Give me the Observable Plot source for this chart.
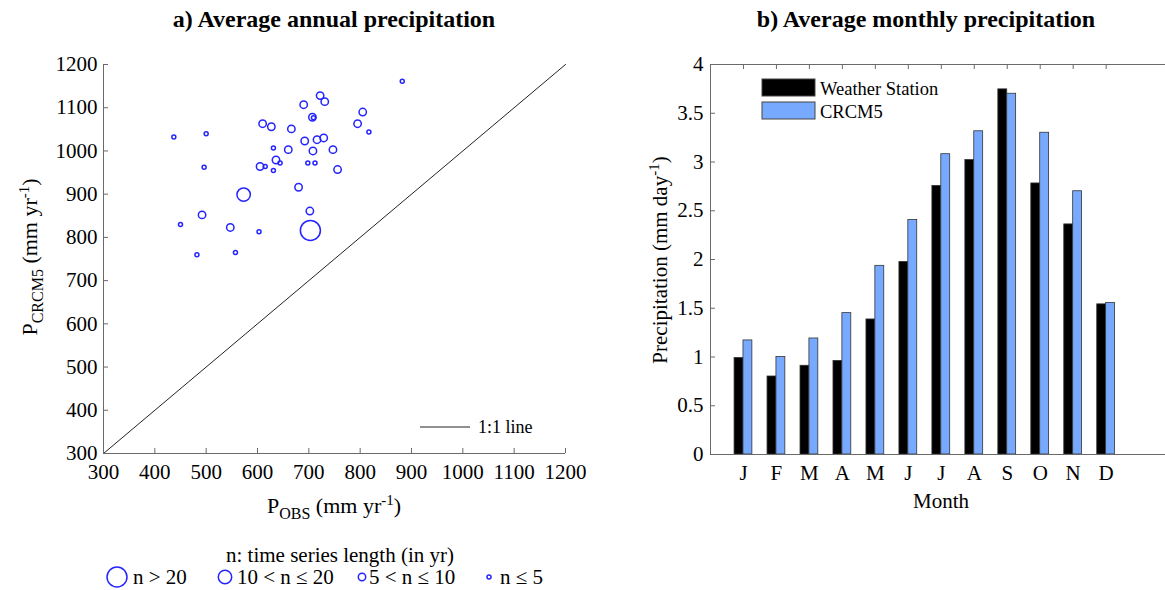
<!DOCTYPE html>
<html><head><meta charset="utf-8">
<script src="https://cdn.jsdelivr.net/npm/d3@7"></script>
<script src="https://cdn.jsdelivr.net/npm/@observablehq/plot@0.6"></script>
<style>
body{margin:0;background:#fff;}
#wrap{position:relative;width:1165px;height:590px;overflow:hidden;background:#fff;font-family:"Liberation Serif","Times New Roman",serif;}
#a{position:absolute;left:0;top:0;}
#b{position:absolute;left:600px;top:0;}
#ov{position:absolute;left:0;top:0;}
</style></head><body>
<div id="wrap"><div id="a"></div><div id="b"></div></div>
<script>
// ---- Panel a: average annual precipitation per station ----
const pObs   = [437,500,496,450,603,482,557,631,644,615,631,698,712,882,817,709,
                492,547,702,680,610,627,666,690,722,731,707,660,692,716,729,708,747,636,605,756,805,795,
                573,703];
const pCrcm5 = [1032,1040,962,830,813,760,765,1007,972,964,955,972,972,1161,1044,1077,
                852,823,861,916,1063,1056,1051,1107,1128,1114,1078,1003,1023,1026,1030,1000,1003,979,964,957,1090,1063,
                899,816];
// 0: n<=5, 1: 5<n<=10, 2: 10<n<=20, 3: n>20
const nClass = [0,0,0,0,0,0,0,0,0,0,0,0,0,0,0,0,
                1,1,1,1,1,1,1,1,1,1,1,1,1,1,1,1,1,1,1,1,1,1,
                2,3];
const sizeLabels = ["n > 20","10 < n \u2264 20","5 < n \u2264 10","n \u2264 5"];
const oneToOne = [300,1200];
const xTicksA = [300,400,500,600,700,800,900,1000,1100,1200];
const yTicksA = [300,400,500,600,700,800,900,1000,1100,1200];

// ---- Panel b: average monthly precipitation ----
const months    = ["J","F","M","A","M","J","J","A","S","O","N","D"];
const stationPr = [0.99,0.80,0.91,0.96,1.385,1.975,2.755,3.02,3.745,2.78,2.36,1.54];
const crcm5Pr   = [1.17,1.00,1.19,1.45,1.935,2.405,3.08,3.315,3.70,3.30,2.70,1.555];
const yTicksB   = [0,0.5,1,1.5,2,2.5,3,3.5,4];
const seriesNames = ["Weather Station","CRCM5"];

const blue = "#2424ff", barBlue = "#77aaff", axisGray = "#6a6a6a";
const font = "'Liberation Serif','Times New Roman',serif";
const radii = [2, 3.7, 6.7, 10];

const stations = pObs.map((x,i)=>({obs:x, crcm5:pCrcm5[i], cls:nClass[i]}));
const monthIdx = months.map((m,i)=>i+1);
const monthData = months.map((m,i)=>({i:i+1, m, ws:stationPr[i], rc:crcm5Pr[i]}));
const bw = 0.27;

const plotA = Plot.plot({
  width: 600, height: 530, marginLeft: 103, marginRight: 35, marginTop: 64, marginBottom: 77,
  x: {domain: [300,1200]}, y: {domain: [300,1200]},
  style: {fontFamily: font, fontSize: "21px", background: "transparent", color: "#000", overflow: "visible"},
  marks: [
    Plot.line(oneToOne.map(v=>[v,v]), {stroke: "#222", strokeWidth: 1}),
    ...radii.map((r,k)=>Plot.dot(stations.filter(d=>d.cls===k), {x:"obs", y:"crcm5", r, stroke: blue, strokeWidth: 1.5, fill: "none"})),
    Plot.ruleX([300], {stroke: axisGray}),
    Plot.ruleY([300], {stroke: axisGray}),
    Plot.tickX(xTicksA, {x: d=>d, stroke: axisGray, insetTop: 389-5}),
    Plot.tickY(yTicksA, {y: d=>d, stroke: axisGray, insetRight: 462-5}),
    Plot.axisX({ticks: xTicksA, tickFormat: d=>String(d), tickSize: 0, tickPadding: 11, label: null, fontSize: 21}),
    Plot.axisY({ticks: yTicksA, tickFormat: d=>String(d), tickSize: 0, tickPadding: 6, label: null, fontSize: 21})
  ]
});
document.getElementById("a").appendChild(plotA);

const plotB = Plot.plot({
  width: 565, height: 530, marginLeft: 110, marginRight: 0, marginTop: 64, marginBottom: 76,
  x: {domain: [0, 13.8]}, y: {domain: [0,4]},
  style: {fontFamily: font, fontSize: "21px", background: "transparent", color: "#000", overflow: "visible"},
  marks: [
    Plot.rect(monthData, {x1: d=>d.i-bw, x2: d=>d.i, y1: ()=>0, y2: "ws", fill: "#000", stroke: "#333", strokeWidth: 0.8}),
    Plot.rect(monthData, {x1: d=>d.i, x2: d=>d.i+bw, y1: ()=>0, y2: "rc", fill: barBlue, stroke: "#333", strokeWidth: 0.8}),
    Plot.ruleY([0,4], {stroke: axisGray}),
    Plot.ruleX([0], {stroke: axisGray}),
    Plot.tickX(monthIdx, {x: d=>d, stroke: axisGray, insetBottom: 390-5}),
    Plot.tickY(yTicksB, {y: d=>d, stroke: axisGray, insetRight: 455-5}),
    Plot.axisX({ticks: monthIdx, tickFormat: d=>months[d-1], tickSize: 0, tickPadding: 11, label: null, fontSize: 21}),
    Plot.axisY({ticks: yTicksB, tickFormat: d=>String(d), tickSize: 0, tickPadding: 7, label: null, fontSize: 21})
  ]
});
document.getElementById("b").appendChild(plotB);

// ---- Titles, axis labels, legends (overlay) ----
const legendX = [117, 225, 362, 489];
const legendTextX = [133, 237, 369, 500];
const legendR = [radii[3], radii[2], radii[1], radii[0]];
let ov = `<svg id="ov" width="1165" height="590" xmlns="http://www.w3.org/2000/svg" font-family="${font}" fill="#000">
  <text x="334" y="27" text-anchor="middle" font-size="24" font-weight="bold">a) Average annual precipitation</text>
  <text x="926" y="27" text-anchor="middle" font-size="24" font-weight="bold">b) Average monthly precipitation</text>
  <text x="334" y="513" text-anchor="middle" font-size="22">P<tspan font-size="16" dy="6">OBS</tspan><tspan dy="-6"> (mm yr</tspan><tspan font-size="15" dy="-8">-1</tspan><tspan dy="8">)</tspan></text>
  <text transform="translate(37,257) rotate(-90)" text-anchor="middle" font-size="22">P<tspan font-size="16" dy="6">CRCM5</tspan><tspan dy="-6"> (mm yr</tspan><tspan font-size="15" dy="-8">-1</tspan><tspan dy="8">)</tspan></text>
  <text transform="translate(667,260) rotate(-90)" text-anchor="middle" font-size="21">Precipitation (mm day<tspan font-size="15" dy="-8">-1</tspan><tspan dy="8">)</tspan></text>
  <text x="941" y="508" text-anchor="middle" font-size="21">Month</text>
  <line x1="420" y1="427" x2="470" y2="427" stroke="#222" stroke-width="1"/>
  <text x="478" y="433" font-size="18">1:1 line</text>
  <rect x="762" y="79" width="53" height="17" fill="#000" stroke="#444"/>
  <rect x="762" y="102" width="53" height="17" fill="${barBlue}" stroke="#444"/>
  <text x="820" y="95" font-size="18.5">${seriesNames[0]}</text>
  <text x="820" y="118" font-size="18.5">${seriesNames[1]}</text>
  <text x="340" y="562" text-anchor="middle" font-size="21">n: time series length (in yr)</text>`;
sizeLabels.forEach((s,k)=>{
  ov += `<circle cx="${legendX[k]}" cy="577" r="${legendR[k]}" fill="none" stroke="${blue}" stroke-width="1.5"/>
  <text x="${legendTextX[k]}" y="584" font-size="21">${s}</text>`;
});
ov += `</svg>`;
document.getElementById("wrap").insertAdjacentHTML("beforeend", ov);
</script>
</body></html>
